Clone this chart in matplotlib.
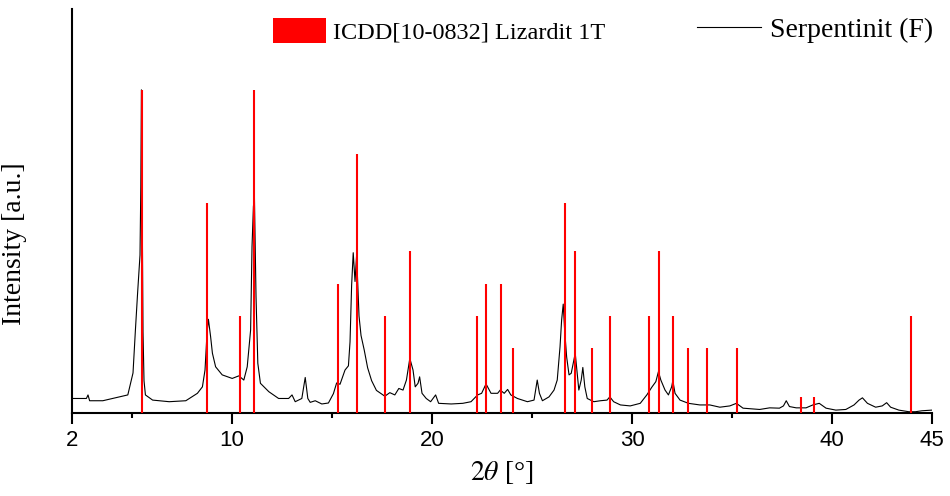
import matplotlib
matplotlib.use("Agg")
import matplotlib.pyplot as plt
from matplotlib.patches import Patch
from matplotlib.lines import Line2D

plt.rcParams["mathtext.fontset"] = "stix"

# measured pattern, Serpentinit (F)
two_theta = [2.00, 2.72, 2.80, 2.88, 3.54, 4.29, 4.79, 5.05, 5.17, 5.28, 5.40, 5.44, 5.47, 5.50, 5.55,
             5.60, 5.67, 6.03, 6.86, 7.69, 8.27, 8.52, 8.65, 8.75, 8.82, 8.93, 9.02, 9.18, 9.51, 10.01, 10.34,
             10.59, 10.76, 10.93, 11.00, 11.07, 11.12, 11.20, 11.29, 11.42, 11.84, 12.33, 12.83,
             13.00, 13.16, 13.49, 13.66, 13.79, 13.91, 14.16, 14.49, 14.82, 15.07, 15.23, 15.40,
             15.65, 15.82, 15.90, 15.98, 16.06, 16.15, 16.23, 16.35, 16.45, 16.61, 16.78, 16.98,
             17.22, 17.64, 17.89, 18.14, 18.34, 18.55, 18.72, 18.89, 19.05, 19.16, 19.30, 19.38,
             19.50, 19.71, 19.93, 20.18, 20.33, 20.96, 21.54, 21.95, 22.28, 22.48, 22.70, 22.95,
             23.28, 23.41, 23.61, 23.78, 23.94, 24.27, 24.77, 25.10, 25.18, 25.26, 25.37, 25.52,
             25.85, 26.10, 26.26, 26.40, 26.48, 26.56, 26.63, 26.73, 26.85, 26.96, 27.09, 27.16,
             27.26, 27.34, 27.46, 27.54, 27.64, 27.76, 28.09, 28.42, 28.75, 28.89, 29.08, 29.42,
             29.91, 30.41, 30.74, 30.99, 31.19, 31.32, 31.44, 31.65, 31.82, 31.98, 32.04, 32.15,
             32.40, 32.82, 33.39, 33.89, 34.39, 34.89, 35.22, 35.55, 36.38, 36.88, 37.37, 37.57,
             37.71, 37.87, 38.21, 38.70, 39.04, 39.36, 39.70, 40.19, 40.69, 41.10, 41.35, 41.52,
             41.77, 42.18, 42.51, 42.73, 42.93, 43.34, 43.84, 44.17, 44.50, 45.00]
intensity = [4.5, 4.5, 5.6, 3.8, 3.8, 4.9, 5.6, 12.4, 25.7, 37.2, 48.9, 70, 100, 70, 25,
             10, 5.6, 4.0, 3.5, 3.8, 6.1, 8.1, 13.3, 24.7, 29.0, 23.6, 18.5, 14.3, 11.8, 10.7, 11.5,
             10.2, 14.3, 25.7, 51.5, 63.9, 67, 36, 15.4, 9.2, 6.6, 4.5, 4.5,
             5.6, 3.5, 4.5, 11.0, 4.5, 3.3, 3.8, 2.8, 3.1, 6.0, 9.3, 8.9,
             13.3, 14.6, 22.0, 39.5, 49.6, 40.7, 48.9, 30.0, 24.0, 19.5, 14.0, 10.0,
             7.0, 5.2, 6.3, 5.6, 7.6, 7.1, 10.2, 16.9, 13.3, 8.1, 9.2, 11.2,
             6.1, 4.5, 3.5, 5.6, 3.0, 2.8, 3.0, 3.5, 5.6, 6.1, 9.0, 6.1,
             6.1, 7.1, 6.1, 7.3, 5.6, 4.5, 3.5, 4.0, 7.1, 10.2, 6.1, 3.8,
             5.0, 7.1, 10.2, 20.5, 28.8, 33.7, 25.7, 17.4, 11.8, 12.3, 16.4, 18.5,
             12.3, 7.1, 10.2, 14.1, 8.1, 4.5, 3.5, 3.8, 4.0, 5.0, 3.5, 2.5,
             2.2, 3.0, 5.6, 8.0, 9.7, 12.8, 10.2, 7.1, 5.6, 8.1, 10.0, 6.1,
             4.0, 3.0, 2.5, 2.5, 1.8, 2.2, 3.0, 1.5, 1.1, 1.6, 1.5, 2.2,
             3.8, 2.0, 1.6, 1.6, 2.5, 3.0, 1.5, 0.9, 1.1, 2.5, 4.0, 4.7,
             3.0, 1.8, 2.2, 3.2, 1.8, 0.9, 0.4, 0.4, 0.7, 0.9]

# reference lines ICDD[10-0832] Lizardit 1T
ref_pos = [5.48, 8.74, 10.39, 11.12, 15.28, 16.26, 17.64, 18.90, 22.23, 22.70, 23.44, 24.04,
           26.63, 27.17, 28.00, 28.92, 30.84, 31.36, 32.07, 32.78, 33.73, 35.25, 38.45, 39.10, 43.96]
ref_int = [100, 65, 30, 100, 40, 80, 30, 50, 30, 40, 40, 20,
           65, 50, 20, 30, 30, 50, 30, 20, 20, 20, 5, 5, 30]

major_ticks = [2, 10, 20, 30, 40, 45]
minor_ticks = [5, 15, 25, 35]

fig = plt.figure(figsize=(9.5, 4.96), dpi=100)
ax = fig.add_axes([0.0758, 0.1673, 0.9053, 0.8145])

ax.plot(two_theta, intensity, color="black", lw=0.8, zorder=2)
ax.vlines(ref_pos, 0, ref_int, color="#ff0000", lw=1.5, zorder=3)

ax.set_xlim(2, 45)
ax.set_ylim(0, 125)
ax.spines["top"].set_visible(False)
ax.spines["right"].set_visible(False)
ax.spines["left"].set_linewidth(1.5)
ax.spines["bottom"].set_linewidth(1.5)
ax.set_yticks([])
ax.set_xticks(major_ticks)
ax.set_xticks(minor_ticks, minor=True)
ax.tick_params(axis="x", which="major", length=8, width=1.5, direction="out", pad=4,
               labelsize=16)
ax.tick_params(axis="x", which="minor", length=3.8, width=1.5, direction="out")
for lab in ax.get_xticklabels():
    lab.set_family("Liberation Sans")

ax.set_xlabel(r"$\mathit{2}\theta$ [°]", family="Liberation Serif", fontsize=20, labelpad=6)
ax.set_ylabel("Intensity [a.u.]", family="Liberation Serif", fontsize=20)
ax.yaxis.set_label_coords(-0.052, 0.42)

leg1 = ax.legend(handles=[Patch(facecolor="#ff0000", edgecolor="none")],
                 labels=["ICDD[10-0832] Lizardit 1T"],
                 loc="center left", bbox_to_anchor=(273 / 950, 1 - 31 / 496),
                 bbox_transform=fig.transFigure, frameon=False, borderpad=0,
                 borderaxespad=0, handlelength=2.2, handleheight=1.2, handletextpad=0.25,
                 prop={"family": "Liberation Serif", "size": 17.5})
ax.add_artist(leg1)
ax.legend(handles=[Line2D([], [], color="black", lw=0.8)],
          labels=["Serpentinit (F)"],
          loc="center left", bbox_to_anchor=(697 / 950, 1 - 30 / 496),
          bbox_transform=fig.transFigure, frameon=False, borderpad=0,
          borderaxespad=0, handlelength=2.3, handletextpad=0.32,
          prop={"family": "Liberation Serif", "size": 20})

fig.savefig("out.png", dpi=100)
